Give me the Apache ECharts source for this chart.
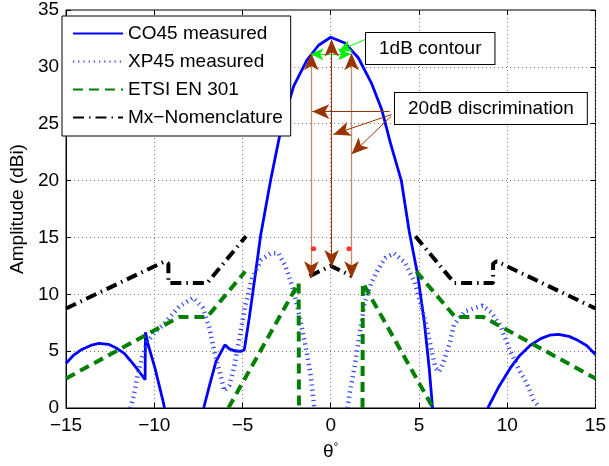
<!DOCTYPE html>
<html>
<head>
<meta charset="utf-8">
<script src="https://cdn.jsdelivr.net/npm/echarts@6/dist/echarts.min.js"></script>
<style>
	html, body { margin: 0; padding: 0; background: #fff; }
	#chart { width: 609px; height: 466px; }
</style>
</head>
<body>
<div id="chart"></div>
<script>
	// 角度 θ (度) 与幅度 (dBi)
	var co45 = [
		[-15, 3.94], [-14.6, 4.6], [-14.17, 5.1], [-13.6, 5.5], [-13.15, 5.69], [-12.6, 5.6],
		[-12.12, 5.25], [-11.7, 4.8], [-11.37, 4.2], [-10.9, 3.3], [-10.52, 2.48], [-10.5, 6.65],
		[-10.34, 5.54], [-9.96, 3.5], [-9.5, 0.58], [-9.42, 0],
		null,
		[-7.2, 0], [-6.85, 2.1], [-6.5, 4.1], [-6.0, 5.55], [-5.75, 5.2], [-5.4, 5.0], [-5.1, 4.98],
		[-4.9, 5.1], [-4.62, 7.9], [-4.25, 12.0], [-3.97, 15.2], [-3.41, 20.0], [-2.94, 23.6],
		[-2.66, 25.4], [-2.1, 28.3], [-1.35, 30.6], [-0.69, 31.9], [0, 32.6], [0.8, 32.1],
		[1.56, 30.8], [2.3, 28.6], [2.9, 26.2], [3.4, 23.2], [4.0, 20.0], [4.45, 15.5],
		[4.93, 11.7], [5.3, 7.6], [5.58, 3.5], [5.77, 0],
		null,
		[8.9, 0], [9.5, 1.8], [10.17, 3.5], [10.7, 4.6], [11.3, 5.5], [11.9, 6.1], [12.4, 6.4],
		[12.9, 6.47], [13.5, 6.3], [14.0, 5.95], [14.5, 5.5], [15, 4.7]
	];

	var xp45 = [
		[-11.35, 0], [-11.15, 1.2], [-10.95, 2.8], [-10.7, 4.4], [-10.4, 5.8], [-10.0, 6.6],
		[-9.5, 7.3], [-8.6, 8.9], [-7.8, 9.7], [-7.25, 8.8], [-6.87, 7.0], [-6.6, 5.0],
		[-6.3, 3.2], [-6.03, 1.5], [-5.75, 2.0], [-5.45, 3.8], [-5.15, 6.3], [-4.85, 9.0],
		[-4.45, 11.4], [-3.95, 13.0], [-3.4, 13.6], [-2.95, 13.6], [-2.55, 12.4], [-2.2, 10.8],
		[-1.9, 9.0], [-1.63, 7.0], [-1.35, 4.8], [-1.15, 3.0], [-0.97, 0.6], [-0.93, 0],
		null,
		[0.95, 0], [1.1, 1.5], [1.37, 3.8], [1.65, 6.6], [1.93, 9.3], [2.3, 11.0], [2.68, 12.2],
		[3.1, 13.2], [3.6, 13.6], [4.2, 12.8], [4.74, 11.1], [5.1, 9.2], [5.45, 7.0], [5.75, 4.8],
		[5.95, 3.5], [6.14, 3.2], [6.33, 3.8], [6.7, 5.5], [6.98, 7.3], [7.6, 8.5], [8.6, 9.0],
		[9.1, 8.4], [9.6, 7.3], [10.17, 5.0], [10.73, 3.2], [11.1, 2.2], [11.5, 0.7], [11.7, 0.3]
	];

	var etsi = [
		[-15, 2.6], [-8.6, 8], [-7.0, 8], [-4.85, 12],
		null,
		[-5.8, 0], [-1.82, 11], [-1.8, 0],
		null,
		[1.8, 0], [1.82, 11], [5.8, 0],
		null,
		[4.85, 12], [7.05, 8], [8.65, 8], [15, 2.6]
	];

	var mxNom = [
		[-15, 8.75], [-9.4, 12.9], [-9.2, 12.7], [-9.2, 11.0], [-7.0, 11.0], [-4.8, 15.1],
		null,
		[-1.2, 11.6], [0, 12.5], [1.2, 11.6],
		null,
		[4.8, 15.1], [7.0, 11.0], [9.2, 11.0], [9.2, 12.7], [9.4, 12.9], [15, 8.75]
	];

	// 标注：1dB 轮廓与 20dB 鉴别
	var contourPointer = [[2.12, 32.52], [0.45, 31.4]];
	var contourSpan = [[-1.15, 31.1], [1.15, 31.1]];
	var discrimOuter = [
		[[-1.1, 31.2], [-1.1, 11.4]],
		[[1.18, 31.2], [1.18, 11.4]]
	];
	var discrimCenter = [[0.05, 32.4], [0.05, 12.4]];
	var discrimPointers = [
		[[3.34, 26.07], [-1.05, 26.07]],
		[[3.43, 25.8], [0.15, 24.06]],
		[[3.43, 25.66], [1.18, 22.31]]
	];
	var redDots = [[-0.97, 14.0], [1.03, 14.0]];

	var legendNames = ['CO45 measured', 'XP45 measured', 'ETSI EN 301', 'Mx\u2212Nomenclature'];

	var FONT = 'Liberation Sans';

	function minus(v) {
		return String(v).replace('-', '\u2212');
	}

	function toLines(list) {
		return list.map(function (c) { return { coords: c }; });
	}

	var chart = echarts.init(document.getElementById('chart'), null, { renderer: 'canvas' });

	var tickStyle = { show: true, inside: true, length: 5, lineStyle: { color: '#000' } };
	var headBig = [[11, 17], [11, 17]];
	var headSmall = [[9, 13], [9, 13]];

	chart.setOption({
		animation: false,
		grid: {
			left: 62, right: 13, top: 10, bottom: 56,
			show: true, borderColor: '#000', borderWidth: 1
		},
		legend: {
			data: legendNames,
			orient: 'vertical',
			left: 62, top: 16,
			padding: [8, 8, 9, 10],
			itemWidth: 50, itemHeight: 14, itemGap: 9,
			backgroundColor: '#fff',
			borderColor: '#000', borderWidth: 1,
			borderRadius: 0,
			z: 20,
			itemStyle: { opacity: 0 },
			textStyle: { fontFamily: FONT, fontSize: 19, color: '#000', lineHeight: 16 }
		},
		xAxis: [{
			type: 'value', min: -15, max: 15, interval: 5,
			name: '\u03b8{s|\u00b0}',
			nameLocation: 'middle', nameGap: 34,
			nameTextStyle: {
				fontFamily: FONT, fontSize: 19, color: '#000',
				rich: { s: { fontFamily: FONT, fontSize: 12, verticalAlign: 'top', color: '#000' } }
			},
			axisLine: { onZero: false, lineStyle: { color: '#000' } },
			axisTick: tickStyle,
			axisLabel: { fontFamily: FONT, fontSize: 19, color: '#000', margin: 8, formatter: minus },
			splitLine: { show: true, lineStyle: { color: '#777', type: [1, 3] } }
		}, {
			type: 'value', min: -15, max: 15, interval: 5, position: 'top',
			axisLine: { show: false, onZero: false }, axisTick: tickStyle,
			axisLabel: { show: false }, splitLine: { show: false }
		}],
		yAxis: [{
			type: 'value', min: 0, max: 35, interval: 5,
			name: 'Amplitude (dBi)',
			nameLocation: 'middle', nameGap: 34,
			nameTextStyle: { fontFamily: FONT, fontSize: 19, color: '#000' },
			axisLine: { show: true, onZero: false, lineStyle: { color: '#000' } },
			axisTick: tickStyle,
			axisLabel: { fontFamily: FONT, fontSize: 19, color: '#000', margin: 7 },
			splitLine: { show: true, lineStyle: { color: '#777', type: [1, 3] } }
		}, {
			type: 'value', min: 0, max: 35, interval: 5, position: 'right',
			axisLine: { show: false, onZero: false }, axisTick: tickStyle,
			axisLabel: { show: false }, splitLine: { show: false }
		}],
		graphic: [{
			type: 'text', left: 365, top: 32, z: 30,
			style: {
				text: '1dB contour', font: '19px "' + FONT + '"', fill: '#000',
				lineHeight: 21, padding: [5, 13, 5, 13],
				backgroundColor: '#fff', borderColor: '#000', borderWidth: 1
			}
		}, {
			type: 'text', left: 394, top: 92, z: 30,
			style: {
				text: '20dB discrimination', font: '19px "' + FONT + '"', fill: '#000',
				lineHeight: 21, padding: [5, 13, 5, 13],
				backgroundColor: '#fff', borderColor: '#000', borderWidth: 1
			}
		}],
		series: [{
			name: legendNames[0], type: 'line', data: co45, symbol: 'none',
			lineStyle: { color: '#0000ff', width: 2.8 }, itemStyle: { color: '#0000ff' }
		}, {
			name: legendNames[1], type: 'line', data: xp45, symbol: 'none',
			lineStyle: { color: '#3344ff', width: 4.5, type: [1.2, 4] }, itemStyle: { color: '#3344ff' }
		}, {
			name: legendNames[2], type: 'line', data: etsi, symbol: 'none',
			lineStyle: { color: '#008000', width: 4, type: [10, 6] }, itemStyle: { color: '#008000' }
		}, {
			name: legendNames[3], type: 'line', data: mxNom, symbol: 'none',
			lineStyle: { color: '#000', width: 4, type: [11, 5, 1.5, 5] }, itemStyle: { color: '#000' }
		}, {
			// 1dB 轮廓指示
			type: 'lines', coordinateSystem: 'cartesian2d', z: 6,
			symbol: ['none', 'arrow'], symbolSize: headSmall,
			lineStyle: { color: '#00ee00', width: 1, curveness: 0, opacity: 1 },
			data: toLines([contourPointer])
		}, {
			type: 'lines', coordinateSystem: 'cartesian2d', z: 6,
			symbol: ['arrow', 'arrow'], symbolSize: headSmall,
			lineStyle: { color: '#00ee00', width: 1, curveness: 0, opacity: 1 },
			data: toLines([contourSpan])
		}, {
			// 外侧竖线颜色较浅，箭头单独画
			type: 'lines', coordinateSystem: 'cartesian2d', z: 6,
			symbol: 'none',
			lineStyle: { color: '#c48a6c', width: 1.3, curveness: 0, opacity: 1 },
			data: toLines(discrimOuter)
		}, {
			type: 'lines', coordinateSystem: 'cartesian2d', z: 6,
			symbol: ['arrow', 'arrow'], symbolSize: headBig,
			lineStyle: { color: '#993300', width: 0, curveness: 0, opacity: 1 },
			data: toLines(discrimOuter)
		}, {
			type: 'lines', coordinateSystem: 'cartesian2d', z: 6,
			symbol: ['arrow', 'arrow'], symbolSize: headBig,
			lineStyle: { color: '#993300', width: 1, curveness: 0, opacity: 1 },
			data: toLines([discrimCenter])
		}, {
			type: 'lines', coordinateSystem: 'cartesian2d', z: 6,
			symbol: ['none', 'arrow'], symbolSize: headBig,
			lineStyle: { color: '#993300', width: 1, curveness: 0, opacity: 1 },
			data: toLines(discrimPointers)
		}, {
			type: 'scatter', data: redDots, symbolSize: 5, z: 7,
			itemStyle: { color: '#ff0000' }
		}]
	});
</script>
</body>
</html>
